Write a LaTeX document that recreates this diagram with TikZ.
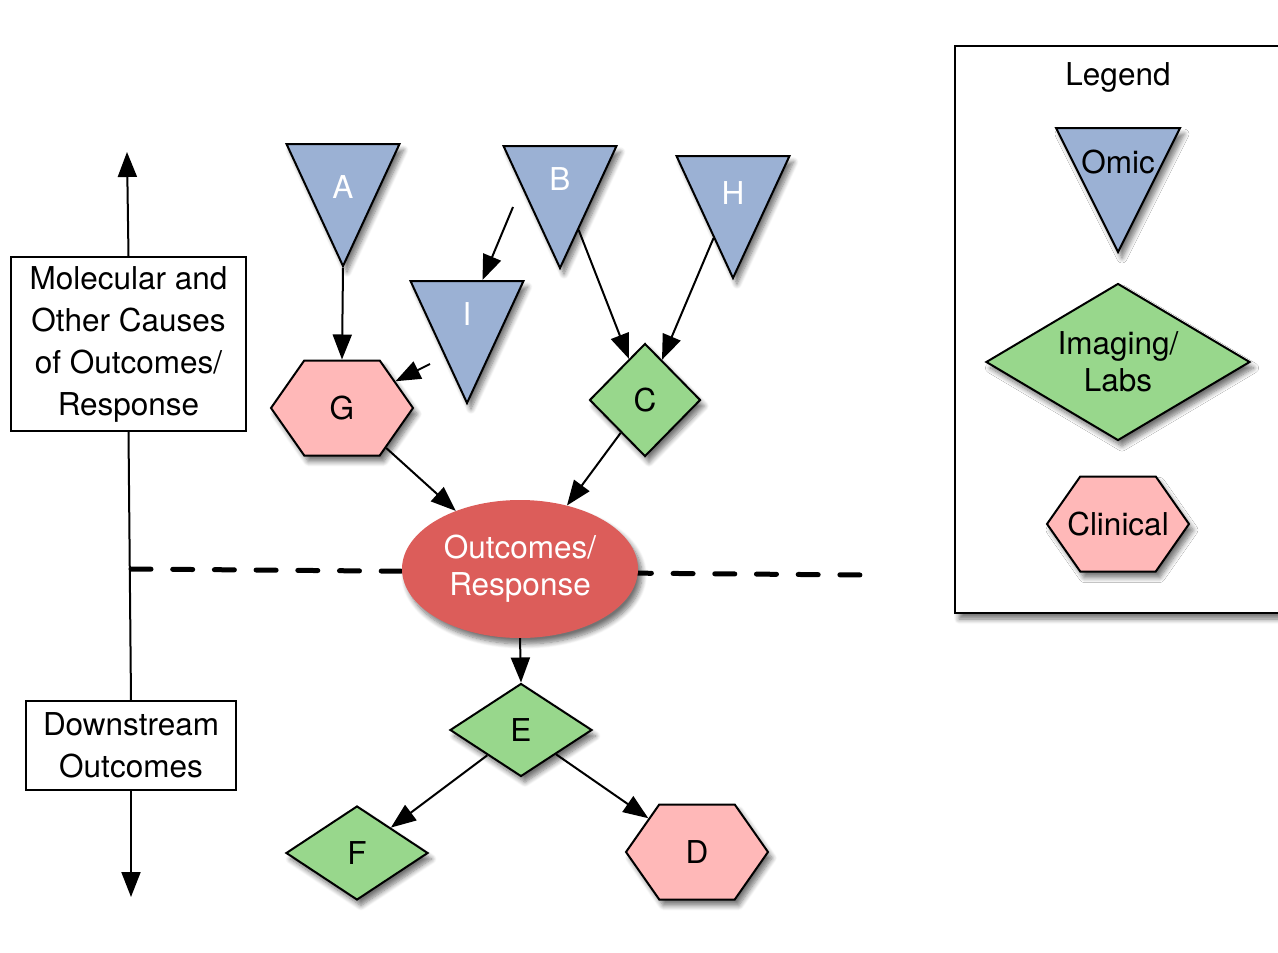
\documentclass[tikz,border=0pt]{standalone}
\usepackage{fontspec}
\setmainfont{TeX Gyre Heros}
\usetikzlibrary{shapes.geometric,shapes.symbols,arrows.meta,shadows.blur}

\definecolor{omicblue}{HTML}{9BB1D4}
\definecolor{labgreen}{HTML}{98D78C}
\definecolor{clinpink}{HTML}{FFB8B8}
\definecolor{outred}{HTML}{DC5D5A}

\tikzset{
  every node/.style={font=\fontsize{31.5}{37}\selectfont, inner sep=0pt},
  soft shadow/.style={blur shadow={shadow xshift=4pt, shadow yshift=-6pt,
      shadow blur radius=5pt, shadow blur steps=8, shadow opacity=55}},
  omic/.style={isosceles triangle, shape border rotate=270,
      isosceles triangle apex angle=60, isosceles triangle stretches,
      draw, line width=2pt, fill=omicblue,
      minimum width=113pt, minimum height=122pt, soft shadow},
  omictext/.style={text=white},
  imaging/.style={diamond, draw, line width=2pt, fill=labgreen, align=center,
      minimum width=142pt, minimum height=93pt, soft shadow},
  clinical/.style={signal, signal to=west and east, signal pointer angle=110,
      draw, line width=2pt, fill=clinpink,
      minimum width=142pt, minimum height=95pt, soft shadow},
  outcome/.style={ellipse, fill=outred, text=white, align=center,
      minimum width=236pt, minimum height=138pt, soft shadow},
  causebox/.style={draw, line width=2pt, align=center,
      font=\fontsize{31.5}{42}\selectfont},
  legendbox/.style={draw, line width=2.5pt, fill=white,
      minimum width=335pt, minimum height=567pt, soft shadow},
  arr/.style={->, line width=2pt},
  divider/.style={line width=5pt, line cap=round, dash pattern=on 20pt off 21.7pt}
}

\begin{document}
\begin{tikzpicture}[x=1pt,y=-1pt,>={Triangle[length=25pt,width=19pt]}]
  \useasboundingbox (0,0) rectangle (1278,953);

  % Legend
  \node[legendbox] (legend) at (1122.5,329.5) {};
  \node (legtitle) at (1118,77) {Legend};
  \node[omic, minimum width=124pt, minimum height=124pt, anchor=apex,
    label={[label distance=-47pt]north:Omic}] (legomic) at (1118,254) {};
  \node[imaging, aspect=1.68, minimum width=264pt, minimum height=157pt]
    (legimg) at (1118,362) {Imaging/\\Labs};
  \node[clinical, label=center:Clinical] (legclin) at (1118,524) {};

  % Axis on the left
  \node[causebox, minimum width=235pt, minimum height=174pt] (cause) at (128.5,344)
    {Molecular and\\Other Causes\\of Outcomes/\\Response};
  \node[causebox, minimum width=210pt, minimum height=89pt] (down) at (131,745.5)
    {Downstream\\Outcomes};
  \coordinate (axtop) at (127,152);
  \coordinate (axbot) at (131,897);
  \draw[arr] (cause.north) -- (axtop);
  \draw[line width=2pt] (cause.south) -- (down.north);
  \draw[arr] (down.south) -- (axbot);

  % Divider
  \coordinate (divl) at (131,569);
  \coordinate (divr) at (862,575);
  \draw[divider] (divl) -- (divr);

  % Causes
  \node[omic, anchor=apex, label={[omictext, label distance=-56pt]north:A}]
    (A) at (343,268) {};
  \node[omic, anchor=apex, label={[omictext, label distance=-46pt]north:B}]
    (B) at (560,270) {};
  \node[omic, anchor=apex, label={[omictext, label distance=-50pt]north:H}]
    (H) at (733,280) {};
  \node[omic, anchor=apex, label={[omictext, label distance=-46pt]north:I}]
    (I) at (467,405) {};
  \node[clinical] (G) at (342,408) {G};
  \node[imaging, minimum width=111pt, minimum height=113pt] (C) at (645,400) {C};

  % Outcomes and downstream
  \node[outcome] (out) at (520,569) {Outcomes/\\Response};
  \node[imaging] (E) at (521,730) {E};
  \node[imaging, minimum height=94pt] (F) at (357,853) {F};
  \node[clinical] (D) at (697,852) {D};

  % Connectors
  \coordinate (bi) at (513,207);
  \coordinate (ig) at (430,364);
  \draw[arr] (A.apex) -- (G.north);
  \draw[arr] (bi) -- (I);
  \draw[arr] (ig) -- (G);
  \draw[arr] (B) -- (C);
  \draw[arr] (H) -- (C);
  \draw[arr] (G) -- (out);
  \draw[arr] (C) -- (out);
  \draw[arr] (out.south) -- (E.north);
  \draw[arr] (E) -- (F);
  \draw[arr] (E) -- (D);
\end{tikzpicture}
\end{document}
